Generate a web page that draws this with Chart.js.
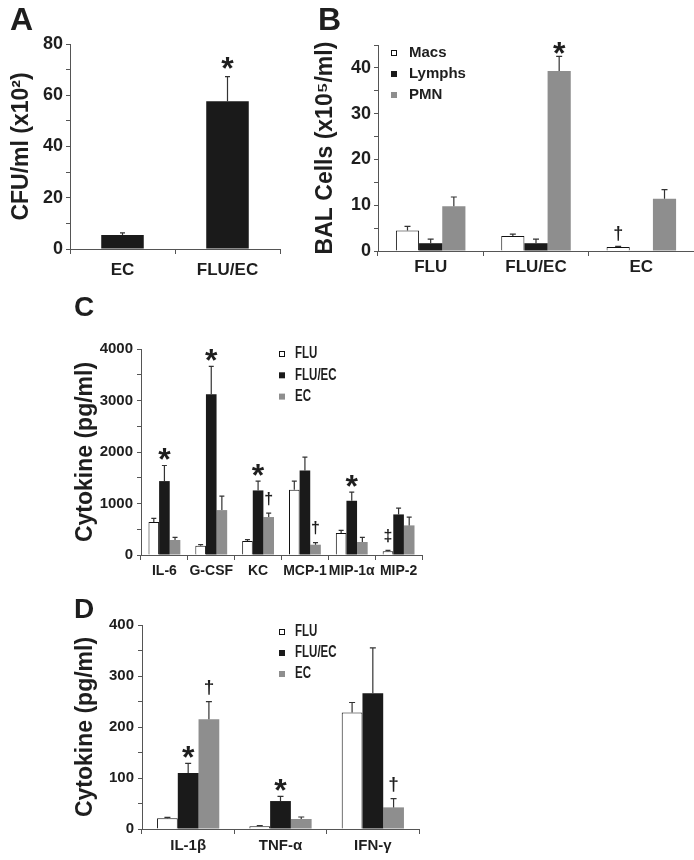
<!DOCTYPE html>
<html>
<head>
<meta charset="utf-8">
<script src="https://cdn.jsdelivr.net/npm/chart.js@4.4.0/dist/chart.umd.min.js"></script>
<style>
  body { margin:0; background:#fff; width:694px; height:860px; position:relative; overflow:hidden; }
  canvas { position:absolute; }
</style>
</head>
<body>
<canvas id="cA" width="320" height="290" style="left:0;top:0"></canvas>
<canvas id="cB" width="394" height="290" style="left:300px;top:0"></canvas>
<canvas id="cC" width="634" height="300" style="left:60px;top:280px"></canvas>
<canvas id="cD" width="634" height="280" style="left:60px;top:580px"></canvas>
<script>
/* ===== DATA ===== */
// A — bacterial load
const aLabels = ['EC', 'FLU/EC'];
const aMean   = [5.5, 57.7];
const aErr    = [0.8, 9.6];
const aMarks  = ['', '*'];

// B — BAL cells
const bLabels    = ['FLU', 'FLU/EC', 'EC'];
const bMacs      = [4.5, 3.3, 0.9];
const bMacsErr   = [0.9, 0.4, 0.1];
const bMacsMarks = ['', '', '†'];
const bLymphs    = [1.7, 1.7, 0.1];
const bLymphsErr = [0.9, 0.9, 0];
const bPmn       = [9.8, 39.3, 11.4];
const bPmnErr    = [2.0, 3.2, 2.0];
const bPmnMarks  = ['', '*', ''];

// C — cytokines
const cLabels     = ['IL-6', 'G-CSF', 'KC', 'MCP-1', 'MIP-1α', 'MIP-2'];
const cFlu        = [640, 181, 271, 1267, 426, 71];
const cFluErr     = [71, 19, 26, 168, 52, 19];
const cFluMarks   = ['', '', '', '', '', '‡'];
const cFluEc      = [1435, 3121, 1254, 1641, 1053, 788];
const cFluEcErr   = [303, 543, 181, 259, 168, 123];
const cFluEcMarks = ['*', '*', '*', '', '*', ''];
const cEc         = [291, 872, 737, 200, 252, 575];
const cEcErr      = [51, 272, 77, 39, 90, 162];
const cEcMarks    = ['', '', '†', '†', '', ''];

// D — cytokines
const dLabels     = ['IL-1β', 'TNF-α', 'IFN-γ'];
const dFlu        = [20.9, 5.2, 228.4];
const dFluErr     = [1.9, 1.3, 19.6];
const dFluEc      = [109.6, 54.8, 266.2];
const dFluEcErr   = [18.9, 9.1, 88.8];
const dFluEcMarks = ['*', '*', ''];
const dEc         = [215.3, 19.6, 42.4];
const dEcErr      = [34.6, 3.9, 17];
const dEcMarks    = ['†', '', '†'];

/* ===== STYLE ===== */
const FONT = "'Liberation Sans', Arial, sans-serif";
const TXT = '#1e1e1e';
const AXIS = '#555';
const WHITE = '#ffffff', BLACK = '#1a1a1a', GRAY = '#8e8e8e';

// error bars + significance marks
const errorBars = {
  id: 'errorBars',
  afterDatasetsDraw(chart, args, o) {
    const ctx = chart.ctx, ys = chart.scales.y;
    chart.data.datasets.forEach((ds, di) => {
      const meta = chart.getDatasetMeta(di);
      meta.data.forEach((bar, i) => {
        const err = ds.errors ? ds.errors[i] : 0;
        const top = ys.getPixelForValue(ds.data[i] + err);
        ctx.save();
        ctx.strokeStyle = '#333';
        ctx.lineWidth = 1.2;
        if (err > 0) {
          ctx.beginPath();
          ctx.moveTo(bar.x, bar.y);
          ctx.lineTo(bar.x, top);
          ctx.moveTo(bar.x - o.cap, top);
          ctx.lineTo(bar.x + o.cap, top);
          ctx.stroke();
        }
        const m = ds.marks && ds.marks[i];
        if (m) {
          const star = m === '*';
          const fs = star ? o.starSize : o.daggerSize;
          const c = top - (star ? o.starGap : o.daggerGap);
          ctx.fillStyle = TXT;
          ctx.font = `bold ${fs}px ${FONT}`;
          ctx.textAlign = 'center';
          ctx.textBaseline = 'alphabetic';
          ctx.fillText(m, bar.x, c + (star ? 0.56 : 0.29) * fs);
        }
        ctx.restore();
      });
    });
  }
};

// panel letter + legend
const panelDecor = {
  id: 'panelDecor',
  afterDraw(chart, args, o) {
    const ctx = chart.ctx;
    ctx.save();
    ctx.fillStyle = TXT;
    ctx.font = `bold ${o.letterSize}px ${FONT}`;
    ctx.textBaseline = 'top';
    ctx.fillText(o.letter, o.letterX, o.letterY);
    if (o.legend) {
      const L = o.legend;
      ctx.font = `bold ${L.size}px ${FONT}`;
      ctx.textBaseline = 'middle';
      chart.data.datasets.forEach((ds, i) => {
        const y = L.y + i * L.dy;
        ctx.fillStyle = ds.backgroundColor;
        ctx.fillRect(L.x, y - L.box / 2, L.box, L.box);
        if (ds.borderWidth) {
          ctx.strokeStyle = ds.borderColor; ctx.lineWidth = 1;
          ctx.strokeRect(L.x + 0.5, y - L.box / 2 + 0.5, L.box - 1, L.box - 1);
        }
        ctx.fillStyle = TXT;
        ctx.save();
        ctx.translate(L.textX, y);
        ctx.scale(L.squeeze || 1, 1);
        ctx.fillText(ds.label, 0, 0);
        ctx.restore();
      });
    }
    ctx.restore();
  }
};

function yScale(max, step, major, width, size, title, titlePad, tickPad) {
  return {
    min: 0, max,
    afterFit: s => { s.width = width; },
    border: { display: true, color: AXIS, width: 1 },
    grid: { drawOnChartArea: false, drawTicks: true, tickLength: 4, color: AXIS },
    ticks: { stepSize: step, autoSkip: false, padding: tickPad, color: TXT,
      font: { family: FONT, weight: 'bold', size },
      callback: v => (v % major === 0 ? v : '') },
    title: { display: true, text: title, color: TXT,
      font: { family: FONT, weight: 'bold', size: 23 }, padding: { top: titlePad, bottom: 0 } }
  };
}
function xScale(height, size, pad) {
  return {
    afterFit: s => { s.height = height; },
    border: { display: true, color: AXIS, width: 1 },
    grid: { drawOnChartArea: false, drawTicks: true, tickLength: 5, color: AXIS },
    ticks: { padding: pad, color: TXT, maxRotation: 0, autoSkip: false,
      font: { family: FONT, weight: 'bold', size } }
  };
}
function series(label, data, errors, marks, color) {
  return { label, data, errors, marks, backgroundColor: color,
    borderColor: color === WHITE ? '#111' : color, borderWidth: color === WHITE ? 1 : 0 };
}
function makeOptions(padding, x, y, decor, err, catPct) {
  return {
    responsive: false, animation: false,
    layout: { padding },
    plugins: { legend: { display: false }, tooltip: { enabled: false },
      panelDecor: decor, errorBars: err },
    datasets: { bar: { barPercentage: 1, categoryPercentage: catPct } },
    scales: { x, y }
  };
}

/* ===== A ===== */
new Chart(document.getElementById('cA'), {
  type: 'bar',
  data: { labels: aLabels, datasets: [series('FLU/EC', aMean, aErr, aMarks, BLACK)] },
  options: makeOptions({ top: 44, right: 40, left: 0, bottom: 0 },
    xScale(41, 17, 6),
    yScale(80, 10, 20, 70, 18, 'CFU/ml (x10²)', 8, 3),
    { letter: 'A', letterX: 10, letterY: 5, letterSize: 32 },
    { cap: 2.5, starSize: 32, daggerSize: 16, starGap: 15, daggerGap: 13 }, 0.405),
  plugins: [errorBars, panelDecor]
});

/* ===== B ===== */
new Chart(document.getElementById('cB'), {
  type: 'bar',
  data: { labels: bLabels, datasets: [
    series('Macs', bMacs, bMacsErr, bMacsMarks, WHITE),
    series('Lymphs', bLymphs, bLymphsErr, null, BLACK),
    series('PMN', bPmn, bPmnErr, bPmnMarks, GRAY)
  ] },
  options: makeOptions({ top: 45, right: 0, left: 0, bottom: 0 },
    xScale(39, 17, 1),
    yScale(45, 5, 10, 78, 18, 'BAL Cells (x10⁵/ml)', 12, 3),
    { letter: 'B', letterX: 18, letterY: 5, letterSize: 32,
      legend: { x: 91, textX: 109, y: 53, dy: 21, box: 6, size: 15 } },
    { cap: 3, starSize: 32, daggerSize: 18, starGap: 10, daggerGap: 13 }, 0.66),
  plugins: [errorBars, panelDecor]
});

/* ===== C ===== */
new Chart(document.getElementById('cC'), {
  type: 'bar',
  data: { labels: cLabels, datasets: [
    series('FLU', cFlu, cFluErr, cFluMarks, WHITE),
    series('FLU/EC', cFluEc, cFluEcErr, cFluEcMarks, BLACK),
    series('EC', cEc, cEcErr, cEcMarks, GRAY)
  ] },
  options: makeOptions({ top: 69, right: 272, left: 0, bottom: 0 },
    xScale(25, 14, 3),
    yScale(4000, 500, 1000, 81, 15, 'Cytokine (pg/ml)', 12, 4),
    { letter: 'C', letterX: 14, letterY: 14, letterSize: 28,
      legend: { x: 219, textX: 235, y: 74, dy: 21.3, box: 6, size: 16, squeeze: 0.72 } },
    { cap: 2.5, starSize: 32, daggerSize: 16, starGap: 13, daggerGap: 14 }, 0.68),
  plugins: [errorBars, panelDecor]
});

/* ===== D ===== */
new Chart(document.getElementById('cD'), {
  type: 'bar',
  data: { labels: dLabels, datasets: [
    series('FLU', dFlu, dFluErr, null, WHITE),
    series('FLU/EC', dFluEc, dFluEcErr, dFluEcMarks, BLACK),
    series('EC', dEc, dEcErr, dEcMarks, GRAY)
  ] },
  options: makeOptions({ top: 45, right: 275, left: 0, bottom: 0 },
    xScale(31, 15, 3),
    yScale(400, 50, 100, 82, 15, 'Cytokine (pg/ml)', 12, 4),
    { letter: 'D', letterX: 14, letterY: 16, letterSize: 28,
      legend: { x: 219, textX: 235, y: 52, dy: 21, box: 6, size: 16, squeeze: 0.72 } },
    { cap: 3, starSize: 32, daggerSize: 19, starGap: 13, daggerGap: 14 }, 0.674),
  plugins: [errorBars, panelDecor]
});
</script>
</body>
</html>
